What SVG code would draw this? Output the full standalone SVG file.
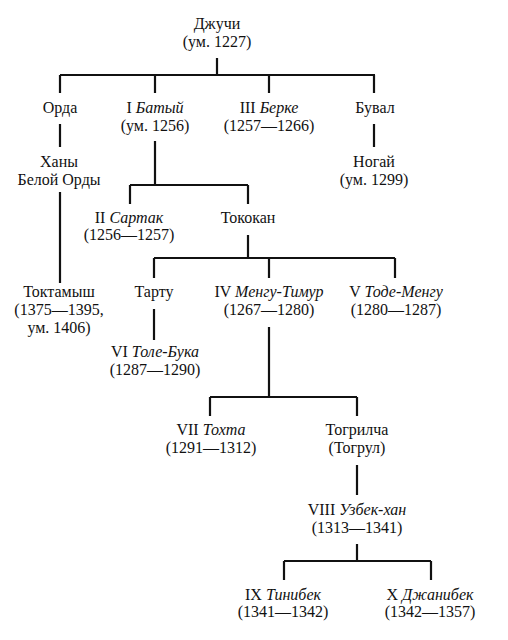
<svg xmlns="http://www.w3.org/2000/svg" width="508" height="640" viewBox="0 0 508 640">
<style>
text{font-family:'Liberation Serif','DejaVu Serif',serif;font-size:16px;fill:#111;text-anchor:middle}
.i{font-style:italic}
.c{stroke:#111;stroke-width:2.2;fill:none}
</style>
<rect width="508" height="640" fill="#fff"/>
<g id="connectors" class="c">
<path d="M217 58V75M60 75H375M60 75V93M155 75V93M269 75V93M374 75V93"/>
<path d="M60 124V147M374 124V147"/>
<path d="M155 141V185M130 185H248M130 185V204M248 185V204"/>
<path d="M60 192V283"/>
<path d="M248 235V258M154 258H395M154 258V278M269 258V278M395 258V278"/>
<path d="M154 309V340"/>
<path d="M269 327V397M210 397H357M210 397V416M357 397V416"/>
<path d="M357 465V495"/>
<path d="M357 544V561M284 561H431M284 561V580M431 561V580"/>
</g>
<g id="n-djuchi"><text x="217" y="29">Джучи</text><text x="217" y="47">(ум. 1227)</text></g>
<g id="n-orda"><text x="60" y="113">Орда</text></g>
<g id="n-batyi"><text x="155" y="113">I <tspan class="i">Батый</tspan></text><text x="155" y="131">(ум. 1256)</text></g>
<g id="n-berke"><text x="269" y="113">III <tspan class="i">Берке</tspan></text><text x="269" y="131">(1257—1266)</text></g>
<g id="n-buval"><text x="375" y="113">Бувал</text></g>
<g id="n-hany"><text x="59" y="167">Ханы</text><text x="59" y="185">Белой Орды</text></g>
<g id="n-nogai"><text x="374" y="167">Ногай</text><text x="374" y="185">(ум. 1299)</text></g>
<g id="n-sartak"><text x="129" y="223">II <tspan class="i">Сартак</tspan></text><text x="129" y="240">(1256—1257)</text></g>
<g id="n-tokokan"><text x="248" y="223">Тококан</text></g>
<g id="n-toktamysh"><text x="59" y="297">Токтамыш</text><text x="59" y="315">(1375—1395,</text><text x="59" y="333">ум. 1406)</text></g>
<g id="n-tartu"><text x="154" y="297">Тарту</text></g>
<g id="n-mengu"><text x="269" y="297">IV <tspan class="i">Менгу-Тимур</tspan></text><text x="269" y="315">(1267—1280)</text></g>
<g id="n-tode"><text x="396" y="297">V <tspan class="i">Тоде-Менгу</tspan></text><text x="396" y="315">(1280—1287)</text></g>
<g id="n-tole"><text x="155" y="357">VI <tspan class="i">Толе-Бука</tspan></text><text x="155" y="375">(1287—1290)</text></g>
<g id="n-tohta"><text x="211" y="435">VII <tspan class="i">Тохта</tspan></text><text x="211" y="453">(1291—1312)</text></g>
<g id="n-togrilcha"><text x="357" y="435">Тогрилча</text><text x="357" y="453">(Тогрул)</text></g>
<g id="n-uzbek"><text x="357" y="515">VIII <tspan class="i">Узбек-хан</tspan></text><text x="357" y="533">(1313—1341)</text></g>
<g id="n-tinibek"><text x="283" y="600">IX <tspan class="i">Тинибек</tspan></text><text x="283" y="617">(1341—1342)</text></g>
<g id="n-djanibek"><text x="430" y="600">X <tspan class="i">Джанибек</tspan></text><text x="430" y="617">(1342—1357)</text></g>
</svg>
